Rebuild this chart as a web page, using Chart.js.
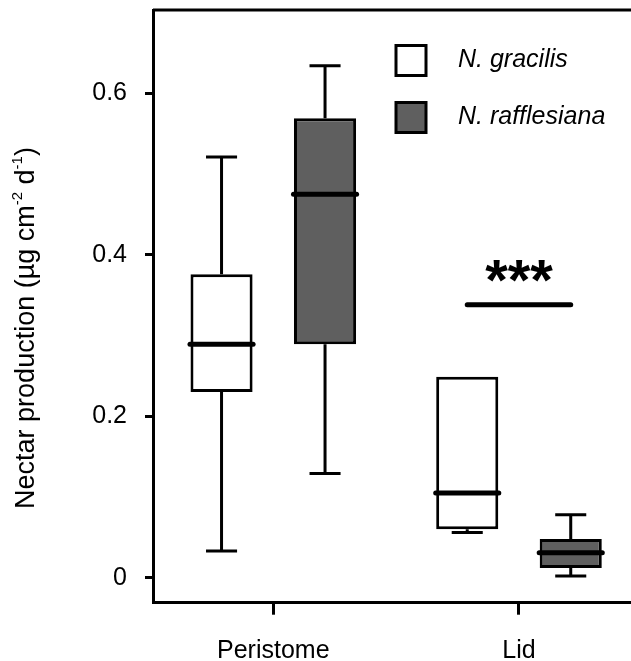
<!DOCTYPE html>
<html>
<head>
<meta charset="utf-8">
<title>Nectar production</title>
<script src="https://cdn.jsdelivr.net/npm/chart.js@4.4.1/dist/chart.umd.min.js"></script>
<style>
  html, body { margin: 0; padding: 0; background: #fff; overflow: hidden; }
</style>
</head>
<body>
<canvas id="nectarChart" width="631" height="661"></canvas>
<script>
const categories = ['Peristome', 'Lid'];
const species = ['N. gracilis', 'N. rafflesiana'];

// box plot stats (µg cm-2 d-1)
const gracilisMin = [0.033, 0.056];
const gracilisQ1 = [0.230, 0.060];
const gracilisMedian = [0.289, 0.105];
const gracilisQ3 = [0.376, 0.249];
const gracilisMax = [0.521, 0.249];

const rafflesianaMin = [0.129, 0.002];
const rafflesianaQ1 = [0.289, 0.012];
const rafflesianaMedian = [0.475, 0.031];
const rafflesianaQ3 = [0.569, 0.048];
const rafflesianaMax = [0.634, 0.078];

const yTicks = [0, 0.2, 0.4, 0.6];
const sigCategory = 1;      // Lid
const sigLevel = 0.338;
const sigLabel = '***';

const stats = [
  { min: gracilisMin, q1: gracilisQ1, med: gracilisMedian, q3: gracilisQ3, max: gracilisMax },
  { min: rafflesianaMin, q1: rafflesianaQ1, med: rafflesianaMedian, q3: rafflesianaQ3, max: rafflesianaMax }
];
const fills = ['#ffffff', '#5f5f5f'];
const FONT = '"Liberation Sans", Arial, sans-serif';

const boxExtras = {
  id: 'boxExtras',
  beforeDatasetsDraw(chart) {
    const { ctx } = chart;
    const y = chart.scales.y;
    ctx.save();
    ctx.strokeStyle = '#000';
    ctx.lineWidth = 3;
    chart.data.datasets.forEach((ds, d) => {
      const s = stats[d];
      chart.getDatasetMeta(d).data.forEach((bar, i) => {
        const cap = bar.width / 4;
        const pairs = [[s.q3[i], s.max[i]], [s.q1[i], s.min[i]]];
        pairs.forEach(([from, to]) => {
          if (from === to) return;
          const y0 = y.getPixelForValue(from), y1 = y.getPixelForValue(to);
          ctx.beginPath();
          ctx.moveTo(bar.x, y0);
          ctx.lineTo(bar.x, y1);
          ctx.moveTo(bar.x - cap, y1);
          ctx.lineTo(bar.x + cap, y1);
          ctx.stroke();
        });
      });
    });
    ctx.restore();
  },
  afterDatasetsDraw(chart) {
    const { ctx, chartArea } = chart;
    const y = chart.scales.y;
    ctx.save();
    ctx.strokeStyle = '#000';
    ctx.lineCap = 'round';
    ctx.lineWidth = 5;
    chart.data.datasets.forEach((ds, d) => {
      chart.getDatasetMeta(d).data.forEach((bar, i) => {
        const ym = y.getPixelForValue(stats[d].med[i]);
        ctx.beginPath();
        ctx.moveTo(bar.x - bar.width / 2 - 0.5, ym);
        ctx.lineTo(bar.x + bar.width / 2 + 0.5, ym);
        ctx.stroke();
      });
    });

    // significance bar over Lid
    const a = chart.getDatasetMeta(0).data[sigCategory];
    const b = chart.getDatasetMeta(1).data[sigCategory];
    const ys = y.getPixelForValue(sigLevel);
    ctx.lineWidth = 5;
    ctx.beginPath();
    ctx.moveTo(a.x, ys);
    ctx.lineTo(b.x, ys);
    ctx.stroke();
    ctx.fillStyle = '#000';
    ctx.font = 'bold 58px ' + FONT;
    ctx.textAlign = 'center';
    ctx.textBaseline = 'alphabetic';
    ctx.fillText(sigLabel, (a.x + b.x) / 2, ys - 5);

    // top frame line
    ctx.lineCap = 'butt';
    ctx.lineWidth = 3;
    ctx.beginPath();
    ctx.moveTo(chartArea.left, chartArea.top);
    ctx.lineTo(chart.width, chartArea.top);
    ctx.stroke();

    // legend
    ctx.font = 'italic 25px ' + FONT;
    ctx.textAlign = 'left';
    ctx.textBaseline = 'middle';
    chart.data.datasets.forEach((ds, d) => {
      const top = 45.5 + d * 57;
      ctx.fillStyle = ds.backgroundColor;
      ctx.fillRect(396, top, 30, 30);
      ctx.strokeRect(396, top, 30, 30);
      ctx.fillStyle = '#000';
      ctx.fillText(ds.label, 458, top + 15);
    });

    // y axis title with superscripts
    const parts = [
      ['Nectar production (\u00b5g cm', false], ['-2', true], [' d', false], ['-1', true], [')', false]
    ];
    const big = '27px ' + FONT, small = '15px ' + FONT;
    let total = 0;
    parts.forEach(([t, sup]) => { ctx.font = sup ? small : big; total += ctx.measureText(t).width; });
    ctx.translate(34, 328);
    ctx.rotate(-Math.PI / 2);
    ctx.textBaseline = 'alphabetic';
    let x = -total / 2;
    parts.forEach(([t, sup]) => {
      ctx.font = sup ? small : big;
      ctx.fillText(t, x, sup ? -12 : 0);
      x += ctx.measureText(t).width;
    });
    ctx.restore();
  }
};

new Chart(document.getElementById('nectarChart'), {
  type: 'bar',
  data: {
    datasets: species.map((name, d) => ({
      label: name,
      data: categories.map((c, i) => ({ x: i + 1, y: [stats[d].q1[i], stats[d].q3[i]] })),
      backgroundColor: fills[d],
      borderColor: '#000',
      borderWidth: 3,
      borderSkipped: false,
      categoryPercentage: 0.8425,
      barPercentage: 0.6
    }))
  },
  options: {
    responsive: false,
    animation: false,
    layout: { padding: { top: 10, right: 0, left: 0, bottom: 0 } },
    plugins: { legend: { display: false }, tooltip: { enabled: false } },
    scales: {
      x: {
        type: 'linear',
        offset: false,
        min: 0.5104,
        max: 2.4559,
        afterBuildTicks: (scale) => { scale.ticks = categories.map((c, i) => ({ value: i + 1 })); },
        afterFit: (scale) => { scale.height = 58.3; scale.paddingLeft = 0; scale.paddingRight = 0; },
        ticks: {
          callback: (v) => categories[v - 1],
          color: '#000',
          font: { family: FONT, size: 25 },
          padding: 21,
          maxRotation: 0
        },
        grid: { offset: false, drawOnChartArea: false, tickLength: 12, tickWidth: 3, tickColor: '#000' },
        border: { display: true, color: '#000', width: 3 }
      },
      y: {
        min: -0.031,
        max: 0.7032,
        afterBuildTicks: (scale) => { scale.ticks = yTicks.map(v => ({ value: v })); },
        afterFit: (scale) => { scale.width = 153; scale.paddingTop = 0; scale.paddingBottom = 0; },
        ticks: {
          callback: (v) => v === 0 ? '0' : v.toFixed(1),
          color: '#000',
          font: { family: FONT, size: 25 },
          padding: 18
        },
        grid: { drawOnChartArea: false, tickLength: 8, tickWidth: 3, tickColor: '#000' },
        border: { display: true, color: '#000', width: 3 }
      }
    }
  },
  plugins: [boxExtras]
});
</script>
</body>
</html>
